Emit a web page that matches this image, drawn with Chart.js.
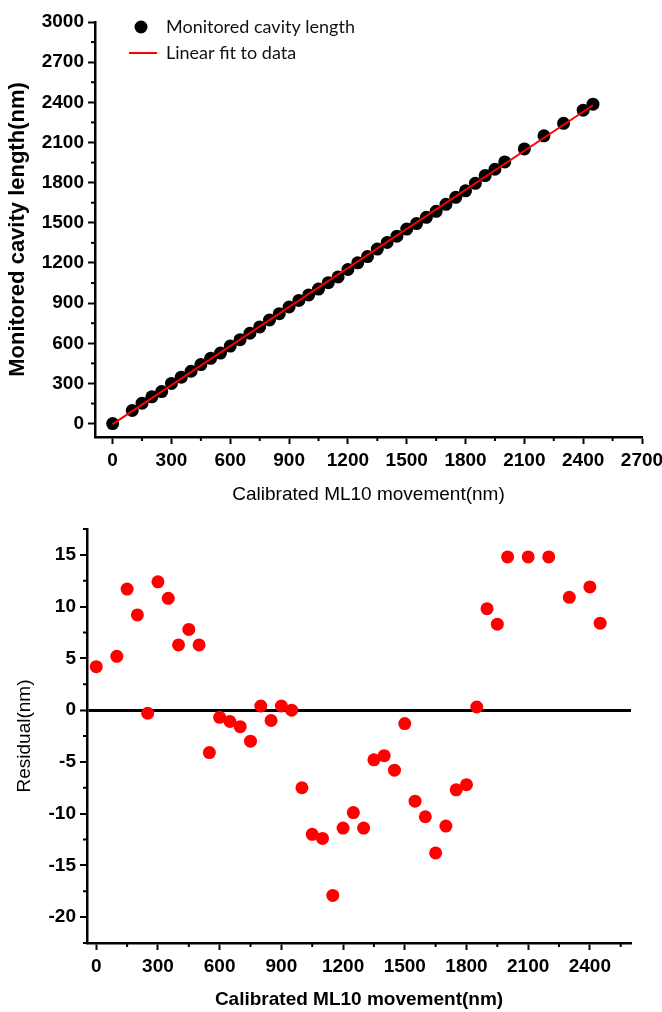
<!DOCTYPE html>
<html>
<head>
<meta charset="utf-8">
<script src="https://cdn.jsdelivr.net/npm/chart.js@4.4.1/dist/chart.umd.min.js"></script>
<style>
  html, body { margin: 0; padding: 0; background: #fff; }
  canvas { display: block; }
</style>
</head>
<body>
<canvas id="fit-chart" width="662" height="510"></canvas>
<canvas id="residual-chart" width="662" height="502"></canvas>
<script>
// calibrated ML10 movement (nm)
const movement = [0, 100, 150, 200, 250, 300, 350, 400, 450, 500,
                  550, 600, 650, 700, 750, 800, 850, 900, 950, 1000,
                  1050, 1100, 1150, 1200, 1250, 1300, 1350, 1400, 1450, 1500,
                  1550, 1600, 1650, 1700, 1750, 1800, 1850, 1900, 1950, 2000,
                  2100, 2200, 2300, 2400, 2450];
// monitored cavity length (nm)
const cavityLength = [0, 98, 153, 200, 239, 300, 347, 391, 441, 488,
                      527, 579, 627, 675, 722, 774, 821, 871, 920, 961,
                      1005, 1053, 1096, 1151, 1201, 1248, 1304, 1353, 1400, 1453,
                      1494, 1541, 1586, 1638, 1690, 1739, 1795, 1853, 1900, 1955,
                      2052, 2150, 2243, 2341, 2386];
// residual (nm)
const residual = [4.2, 5.2, 11.7, 9.2, -0.3, 12.4, 10.8, 6.3, 7.8, 6.3,
                  -4.1, -0.7, -1.1, -1.6, -3.0, 0.4, -1.0, 0.4, 0.0, -7.5,
                  -12.0, -12.4, -17.9, -11.4, -9.9, -11.4, -4.8, -4.4, -5.8, -1.3,
                  -8.8, -10.3, -13.8, -11.2, -7.7, -7.2, 0.3, 9.8, 8.3, 14.8,
                  14.8, 14.8, 10.9, 11.9, 8.4];
// linear fit line
const fitX = [0, 2450];
const fitY = [-4, 2378];

const topXTicks = [0, 300, 600, 900, 1200, 1500, 1800, 2100, 2400, 2700];
const topYTicks = [0, 300, 600, 900, 1200, 1500, 1800, 2100, 2400, 2700, 3000];
const resXTicks = [0, 300, 600, 900, 1200, 1500, 1800, 2100, 2400];
const resYTicks = [-20, -15, -10, -5, 0, 5, 10, 15];

const narrow = '"Liberation Sans Narrow", "Liberation Sans", Arial, sans-serif';
const tickFont = {family: narrow, size: 19, weight: 'bold'};

const toXY = (xs, ys) => xs.map((x, i) => ({x: x, y: ys[i]}));
const setTicks = list => s => { s.ticks = list.map(v => ({value: v})); };

// short ticks half way between the labelled ones
const minorTicks = {
    id: 'minorTicks',
    afterDraw(chart) {
        const ctx = chart.ctx;
        ctx.save();
        ctx.strokeStyle = '#000';
        ctx.lineWidth = 2;
        Object.values(chart.scales).forEach(s => {
            const vals = s.ticks.map(t => t.value);
            const step = vals[1] - vals[0];
            for (let v = vals[0] - step / 2; v <= s.max + 1e-9; v += step) {
                if (v < s.min - 1e-9) continue;
                const p = s.getPixelForValue(v);
                ctx.beginPath();
                if (s.isHorizontal()) { ctx.moveTo(p, s.top); ctx.lineTo(p, s.top + 4); }
                else { ctx.moveTo(s.right, p); ctx.lineTo(s.right - 4, p); }
                ctx.stroke();
            }
        });
        ctx.restore();
    }
};

// legend sits inside the plot, near the top left corner
const legendNudge = {
    id: 'legendNudge',
    afterLayout(chart) {
        if (chart.legend) { chart.legend.left += 26; chart.legend.top += 10; }
    }
};

function legendIcon(draw) {
    const c = document.createElement('canvas');
    c.width = 28; c.height = 14;
    draw(c.getContext('2d'));
    return c;
}
const dotIcon = legendIcon(g => { g.fillStyle = '#000'; g.beginPath(); g.arc(12, 7, 6.5, 0, Math.PI * 2); g.fill(); });
const lineIcon = legendIcon(g => { g.strokeStyle = '#ff0000'; g.lineWidth = 2; g.beginPath(); g.moveTo(0, 7); g.lineTo(28, 7); g.stroke(); });
const icons = [dotIcon, lineIcon];

function axis(opts) {
    return {
        type: 'linear',
        min: opts.min, max: opts.max,
        afterBuildTicks: setTicks(opts.ticks),
        afterFit: opts.fit,
        border: {color: '#000', width: 2.5},
        grid: Object.assign({drawOnChartArea: false, tickLength: 7, tickColor: '#000', tickWidth: 2}, opts.grid || {}),
        ticks: {color: '#000', font: tickFont, padding: opts.pad, maxRotation: 0, autoSkip: false, callback: v => String(v)},
        title: {display: true, text: opts.title, color: '#000', font: opts.titleFont, padding: opts.titlePad}
    };
}

new Chart(document.getElementById('fit-chart'), {
    type: 'scatter',
    data: {
        datasets: [
            {
                label: 'Monitored cavity length',
                data: toXY(movement, cavityLength),
                backgroundColor: '#000',
                pointRadius: 6.5,
                pointBorderWidth: 0,
                order: 1
            },
            {
                type: 'line',
                label: 'Linear fit to data',
                data: toXY(fitX, fitY),
                borderColor: '#ff0000',
                borderWidth: 2,
                pointRadius: 0,
                order: 0
            }
        ]
    },
    options: {
        responsive: false,
        animation: false,
        devicePixelRatio: 1,
        layout: {padding: {top: 22, right: 20, left: 0, bottom: 0}},
        plugins: {
            tooltip: {enabled: false},
            legend: {
                position: 'chartArea',
                align: 'start',
                labels: {
                    color: '#111',
                    font: {family: 'Lato, "Open Sans", sans-serif', size: 18},
                    usePointStyle: true,
                    pointStyleWidth: 28,
                    padding: 8,
                    sort: (a, b) => a.datasetIndex - b.datasetIndex,
                    generateLabels(chart) {
                        const items = Chart.defaults.plugins.legend.labels.generateLabels(chart);
                        items.forEach(it => { it.pointStyle = icons[it.datasetIndex]; });
                        return items;
                    }
                }
            }
        },
        scales: {
            x: axis({min: -90, max: 2700, ticks: topXTicks, pad: 5,
                     fit: s => { s.height = 73; s.paddingLeft = 0; s.paddingRight = 0; },
                     title: 'Calibrated ML10 movement(nm)',
                     titleFont: {family: narrow, size: 19},
                     titlePad: {top: 4, bottom: 4}}),
            y: axis({min: -100, max: 3000, ticks: topYTicks, pad: 4,
                     fit: s => { s.width = 95; s.paddingTop = 0; s.paddingBottom = 0; },
                     title: 'Monitored cavity length(nm)',
                     titleFont: {family: '"Liberation Sans", Arial, sans-serif', size: 22, weight: 'bold'},
                     titlePad: {top: 5, bottom: 0}})
        }
    },
    plugins: [minorTicks, legendNudge]
});

new Chart(document.getElementById('residual-chart'), {
    type: 'scatter',
    data: {
        datasets: [{
            label: 'Residual',
            data: toXY(movement, residual),
            backgroundColor: '#ff0000',
            pointRadius: 6.5,
            pointBorderWidth: 0
        }]
    },
    options: {
        responsive: false,
        animation: false,
        devicePixelRatio: 1,
        layout: {padding: {top: 19, right: 31, left: 0, bottom: 0}},
        plugins: {legend: {display: false}, tooltip: {enabled: false}},
        scales: {
            x: axis({min: -45, max: 2600, ticks: resXTicks, pad: 5,
                     fit: s => { s.height = 69; s.paddingLeft = 0; s.paddingRight = 0; },
                     title: 'Calibrated ML10 movement(nm)',
                     titleFont: {family: narrow, size: 19, weight: 'bold'},
                     titlePad: {top: 4, bottom: 1}}),
            y: axis({min: -22.5, max: 17.5, ticks: resYTicks, pad: 4,
                     fit: s => { s.width = 87; s.paddingTop = 0; s.paddingBottom = 0; },
                     title: 'Residual(nm)',
                     titleFont: {family: '"Liberation Sans", Arial, sans-serif', size: 19},
                     titlePad: {top: 13, bottom: 0},
                     // zero line across the plot
                     grid: {drawOnChartArea: true,
                            color: c => c.tick && c.tick.value === 0 ? '#000' : 'rgba(0,0,0,0)',
                            lineWidth: c => c.tick && c.tick.value === 0 ? 3 : 0}})
        }
    },
    plugins: [minorTicks]
});
</script>
</body>
</html>
